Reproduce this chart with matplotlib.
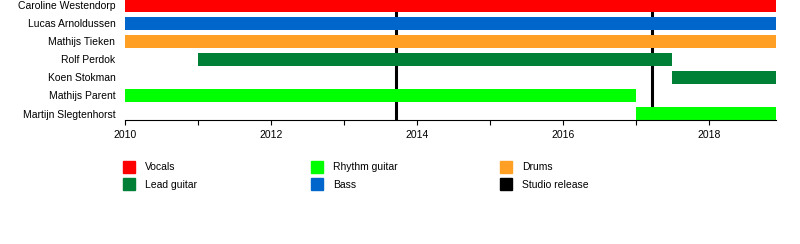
import matplotlib.pyplot as plt
from matplotlib.patches import Rectangle

plt.rcParams['font.family'] = ['Liberation Sans', 'DejaVu Sans']

end_date = 2018.92
members = ["Caroline Westendorp", "Lucas Arnoldussen", "Mathijs Tieken", "Rolf Perdok",
           "Koen Stokman", "Mathijs Parent", "Martijn Slegtenhorst"]
starts = [2010.0, 2010.0, 2010.0, 2011.0, 2017.5, 2010.0, 2017.0]
ends = [end_date, end_date, end_date, 2017.5, end_date, 2017.0, end_date]
roles = ["Vocals", "Bass", "Drums", "Lead guitar", "Lead guitar", "Rhythm guitar", "Rhythm guitar"]
releases = [2013.71, 2017.22]

role_colors = {
    "Vocals": "#ff0000",
    "Lead guitar": "#007f37",
    "Rhythm guitar": "#00ff00",
    "Bass": "#0066cc",
    "Drums": "#ffa024",
    "Studio release": "#000000",
}
legend_cols = [["Vocals", "Lead guitar"], ["Rhythm guitar", "Bass"], ["Drums", "Studio release"]]

fig = plt.figure(figsize=(8, 2.44), dpi=100)
ax = fig.add_axes([125 / 800, 1 - 120 / 244, 651 / 800, 120 / 244])

n = len(members)
ypos = [n - 1 - i for i in range(n)]
for y, s, e, r in zip(ypos, starts, ends, roles):
    ax.barh(y, e - s, left=s, height=0.68, color=role_colors[r], zorder=2)
for d in releases:
    ax.axvline(d, color="black", linewidth=2.2, zorder=1)

ax.set_xlim(2010, end_date)
ax.set_ylim(-0.36, n - 0.7)
ax.set_yticks(ypos)
ax.set_yticklabels(members, fontsize=7.5)
ax.tick_params(axis="y", length=0, pad=7)
ax.set_xticks([2010, 2012, 2014, 2016, 2018])
ax.set_xticks([2011, 2013, 2015, 2017], minor=True)
ax.tick_params(axis="x", which="both", length=3.5, width=0.8, labelsize=7.5, pad=4)
for side in ["top", "right", "left"]:
    ax.spines[side].set_visible(False)
ax.spines["bottom"].set_linewidth(0.8)

# legend drawn by hand in pixel positions
col_x = [123, 311, 500]
row_y = [161, 178]
for cx, labels in zip(col_x, legend_cols):
    for ry, lab in zip(row_y, labels):
        fig.patches.append(Rectangle((cx / 800, 1 - (ry + 12) / 244), 12 / 800, 12 / 244,
                                     transform=fig.transFigure, color=role_colors[lab]))
        fig.text((cx + 22) / 800, 1 - (ry + 6.5) / 244, lab, fontsize=7.5, va="center")

fig.savefig("out.png", dpi=100)
